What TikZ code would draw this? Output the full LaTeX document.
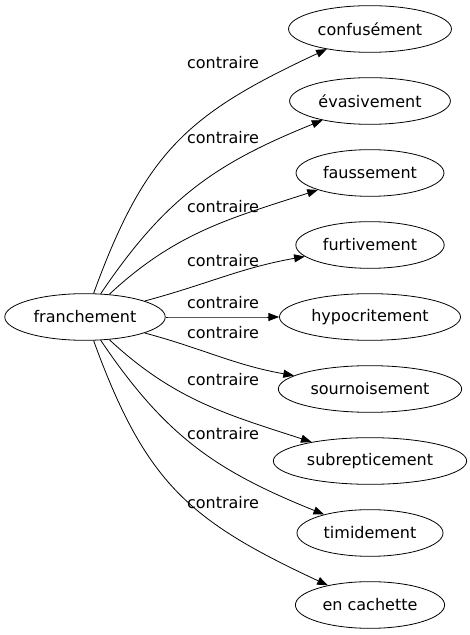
\documentclass[tikz,border=0pt]{standalone}
\usepackage{fontspec}
\setmainfont{DejaVu Sans}
\usetikzlibrary{arrows.meta,shapes.geometric}
\begin{document}
\begin{tikzpicture}[x=.75pt,y=.75pt,>={Triangle[length=8pt,width=6pt]},
    mot/.style={ellipse,draw,line width=.6pt,font=\fontsize{12}{14}\selectfont,inner xsep=4pt,minimum height=35pt},
    lien/.style={->,line width=.6pt},
    etiq/.style={font=\fontsize{12}{14}\selectfont,inner sep=1pt}]
  \useasboundingbox (0,0) rectangle (470,635);
  \node[mot] (franchement) at (85,318) {franchement};
  \foreach \nom/\txt/\y in {confusement/confusément/606,evasivement/évasivement/534,
      faussement/faussement/462,furtivement/furtivement/390,hypocritement/hypocritement/318,
      sournoisement/sournoisement/246,subrepticement/subrepticement/174,
      timidement/timidement/102,cachette/en cachette/30}
    \node[mot] (\nom) at (370,\y) {\txt};

  % liens et etiquettes
  \foreach \nom/\o/\i/\l/\ly in {confusement/70/205/1.15/572,evasivement/56/202/1.05/497,
      faussement/43/198/1/428,furtivement/15/190/1/374,hypocritement/0/180/1/332,
      sournoisement/-15/170/1/302,subrepticement/-43/162/1/255,
      timidement/-56/158/1.05/201,cachette/-70/155/1.15/132}{
    \draw[lien] (franchement) to[out=\o,in=\i,looseness=\l] (\nom);
    \node[etiq] (c\nom) at (223,\ly) {contraire};
  }
\end{tikzpicture}
\end{document}
